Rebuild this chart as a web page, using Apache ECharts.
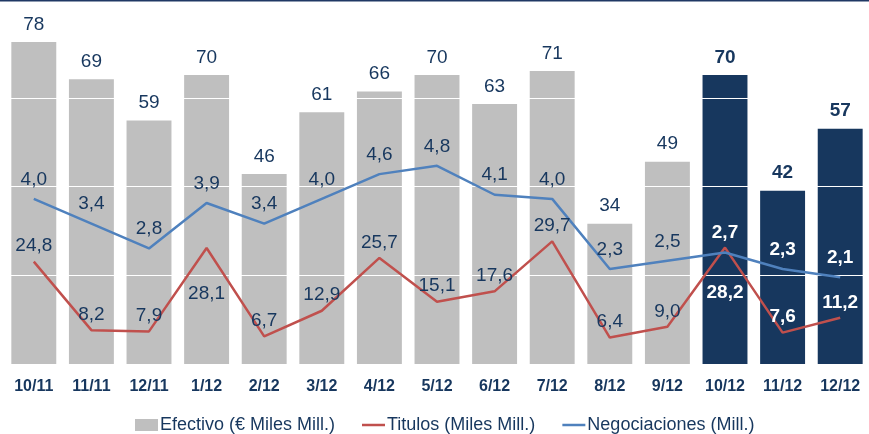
<!DOCTYPE html>
<html lang="es">
<head>
    <meta charset="UTF-8">
    <title>Efectivo, Titulos y Negociaciones</title>
    <script src="https://cdn.jsdelivr.net/npm/echarts@6/dist/echarts.min.js"></script>
    <style>
        html, body { margin: 0; padding: 0; background: #fff; }
        #box { width: 869px; height: 434px; }
    </style>
</head>
<body>
<div id="box"></div>
<script>
    // datos
    var meses = ['10/11', '11/11', '12/11', '1/12', '2/12', '3/12', '4/12', '5/12', '6/12', '7/12', '8/12', '9/12', '10/12', '11/12', '12/12'];
    var efectivo = [78, 69, 59, 70, 46, 61, 66, 70, 63, 71, 34, 49, 70, 42, 57];
    var titulos = [24.8, 8.2, 7.9, 28.1, 6.7, 12.9, 25.7, 15.1, 17.6, 29.7, 6.4, 9.0, 28.2, 7.6, 11.2];
    var negociaciones = [4.0, 3.4, 2.8, 3.9, 3.4, 4.0, 4.6, 4.8, 4.1, 4.0, 2.3, 2.5, 2.7, 2.3, 2.1];
    var desdeMes = '10/12';   // meses destacados en azul oscuro
    var titulosAbajo = ['1/12', '10/12'];  // etiquetas debajo del punto

    var azulOscuro = '#17375e';
    var fuente = '"Liberation Sans", Arial, sans-serif';
    var inicio = meses.indexOf(desdeMes);

    function coma(v) { return v.toFixed(1).replace('.', ','); }

    var barras = efectivo.map(function (v, i) {
        return { value: v, itemStyle: { color: i >= inicio ? azulOscuro : '#bfbfbf' } };
    });
    var etiquetasBarras = efectivo.map(function (v, i) {
        return { value: v, label: { fontWeight: i >= inicio ? 'bold' : 'normal' } };
    });
    var puntosTit = titulos.map(function (v, i) {
        var d = i >= inicio;
        var abajo = titulosAbajo.indexOf(meses[i]) >= 0;
        return {
            value: v,
            label: {
                position: abajo ? 'bottom' : 'top',
                distance: abajo ? 36 : 6,
                color: d ? '#fff' : azulOscuro,
                fontWeight: d ? 'bold' : 'normal'
            }
        };
    });
    var puntosNeg = negociaciones.map(function (v, i) {
        var d = i >= inicio;
        return {
            value: v,
            label: { color: d ? '#fff' : azulOscuro, fontWeight: d ? 'bold' : 'normal' }
        };
    });

    var myChart = echarts.init(document.getElementById('box'));
    var option = {
        animation: false,
        textStyle: { fontFamily: fuente },
        graphic: [{
            type: 'rect', left: 0, top: 0,
            shape: { width: 869, height: 1.5 },
            style: { fill: '#1f3864' }
        }],
        grid: { left: 5, width: 869, top: 9, bottom: 70, containLabel: false },
        legend: {
            top: 416,
            left: 135,
            padding: 0,
            itemWidth: 23,
            itemHeight: 12,
            itemGap: 27,
            textStyle: { fontFamily: fuente, fontSize: 18, color: azulOscuro, padding: [0, 0, 0, -3] },
            data: [
                { name: 'Efectivo (€ Miles Mill.)', icon: 'rect' },
                { name: 'Titulos (Miles Mill.)', icon: 'path://M0,0h23v2.5h-23z' },
                { name: 'Negociaciones (Mill.)', icon: 'path://M0,0h23v2.5h-23z' }
            ]
        },
        xAxis: {
            type: 'category',
            data: meses,
            axisLine: { show: false },
            axisTick: { show: false },
            axisLabel: { fontFamily: fuente, fontSize: 16, fontWeight: 'bold', color: azulOscuro, margin: 15 }
        },
        yAxis: [
            { type: 'value', min: 0, max: 86, interval: 21.5, show: false, splitLine: { show: false } },
            { type: 'value', min: 0, max: 8.6, show: false, splitLine: { show: false } }
        ],
        series: [
            {
                name: 'Efectivo (€ Miles Mill.)',
                type: 'bar',
                barCategoryGap: '22%',
                itemStyle: { color: '#bfbfbf' },
                // lineas de rejilla blancas sobre las barras
                markLine: {
                    z: 3,
                    silent: true,
                    symbol: 'none',
                    label: { show: false },
                    lineStyle: { color: '#ffffff', type: 'solid', width: 1 },
                    data: [{ yAxis: 21.5 }, { yAxis: 43 }, { yAxis: 64.5 }]
                },
                data: barras
            },
            {
                // solo etiquetas de las barras
                name: 'etiquetas',
                type: 'bar',
                barGap: '-100%',
                barCategoryGap: '22%',
                z: 5,
                silent: true,
                itemStyle: { color: 'transparent' },
                label: { show: true, position: 'top', distance: 8, fontFamily: fuente, fontSize: 19, color: azulOscuro },
                data: etiquetasBarras
            },
            {
                name: 'Titulos (Miles Mill.)',
                type: 'line',
                z: 4,
                symbol: 'circle',
                symbolSize: 0,
                lineStyle: { color: '#c0504d', width: 2.5 },
                itemStyle: { color: '#c0504d' },
                label: { show: true, fontFamily: fuente, fontSize: 19, formatter: function (p) { return coma(p.value); } },
                data: puntosTit
            },
            {
                name: 'Negociaciones (Mill.)',
                type: 'line',
                yAxisIndex: 1,
                z: 4,
                symbol: 'circle',
                symbolSize: 0,
                lineStyle: { color: '#4f81bd', width: 2.5 },
                itemStyle: { color: '#4f81bd' },
                label: { show: true, position: 'top', distance: 10, fontFamily: fuente, fontSize: 19, formatter: function (p) { return coma(p.value); } },
                data: puntosNeg
            }
        ]
    };
    myChart.setOption(option);
</script>
</body>
</html>
